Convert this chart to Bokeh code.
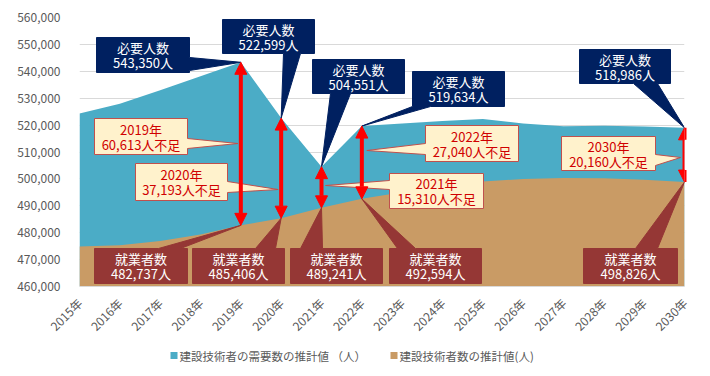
import math
from bokeh.plotting import figure
from bokeh.layouts import column
from bokeh.models import (FixedTicker, NumeralTickFormatter, Arrow, NormalHead, Range1d)
from bokeh.core.properties import value
from bokeh.embed import file_html
from bokeh.resources import INLINE

# ---------------- data ----------------
years = list(range(2015, 2031))
year_labels = [f"{y}年" for y in years]
demand = [524300, 527900, 533000, 538200, 543350, 522599, 504551, 519634,
          520600, 521500, 522300, 520600, 519600, 519800, 519500, 518986]
supply = [474900, 475300, 476900, 479300, 482737, 485406, 489241, 492594,
          495000, 497100, 499000, 500000, 500300, 500200, 499700, 498826]
series_names = ["建設技術者の需要数の推計値 （人）", "建設技術者数の推計値(人)"]

# highlighted years (callouts)
hl_years = [2019, 2020, 2021, 2022, 2030]
shortage = [60613, 37193, 15310, 27040, 20160]

FONT = "Noto Sans CJK JP"
BLUE = "#4BACC6"
TAN = "#C99B65"
NAVY = "#002060"
DRED = "#953735"
CREAM = "#FFF2CC"
RED = "#FF0000"

W = 710
H_MAIN = 343
H_LEG = 33
FL, FR, FT, FB = 79, 684, 17, 286
X0, X1 = 2015, 2030
Y0, Y1 = 460000, 560000

def dx(px):
    return X0 + (px - FL) * (X1 - X0) / (FR - FL)

def dy(py):
    return Y0 + (FB - py) * (Y1 - Y0) / (FB - FT)

p = figure(width=W, height=H_MAIN, output_backend="svg", toolbar_location=None,
           x_range=Range1d(X0, X1), y_range=Range1d(Y0, Y1),
           min_border_left=FL, min_border_right=W - FR,
           min_border_top=FT, min_border_bottom=H_MAIN - FB)
p.outline_line_color = None
p.background_fill_color = "white"
p.border_fill_color = "white"

r_dem = p.varea(x=years, y1=[Y0] * len(years), y2=demand, fill_color=BLUE)
r_sup = p.varea(x=years, y1=[Y0] * len(years), y2=supply, fill_color=TAN)

# axes
p.xgrid.visible = False
p.ygrid.grid_line_color = "#d9d9d9"
p.ygrid.grid_line_width = 1
p.yaxis.ticker = FixedTicker(ticks=list(range(Y0, Y1 + 1, 10000)))
p.yaxis.formatter = NumeralTickFormatter(format="0,0")
p.yaxis.axis_line_color = None
p.yaxis.major_tick_line_color = None
p.yaxis.minor_tick_line_color = None
p.yaxis.major_label_text_font = FONT
p.yaxis.major_label_text_font_size = "12px"
p.yaxis.major_label_text_color = "#595959"
p.yaxis.major_label_standoff = 13

p.xaxis.ticker = FixedTicker(ticks=years)
p.xaxis.major_label_overrides = {y: l for y, l in zip(years, year_labels)}
p.xaxis.major_label_orientation = math.pi / 4
p.xaxis.axis_line_color = "#d9d9d9"
p.xaxis.major_tick_line_color = None
p.xaxis.minor_tick_line_color = None
p.xaxis.major_label_text_font = FONT
p.xaxis.major_label_text_font_size = "12px"
p.xaxis.major_label_text_color = "#595959"
p.xaxis.major_label_standoff = 8

# ---------------- callouts ----------------
def build(L, T, R, B, side, a, b, tip):
    if side == "right":
        pts = [(L, T), (R, T), (R, a), None, (R, b), (R, B), (L, B)]
    elif side == "left":
        pts = [(L, T), (R, T), (R, B), (L, B), (L, b), None, (L, a)]
    elif side == "bottom":
        pts = [(L, T), (R, T), (R, B), (b, B), None, (a, B), (L, B)]
    else:  # top
        pts = [(L, T), (a, T), None, (b, T), (R, T), (R, B), (L, B)]
    xs, ys = [], []
    for pt in pts:
        if pt is None:
            xs.append(tip[0]); ys.append(tip[1])
        else:
            xs.append(dx(pt[0])); ys.append(dy(pt[1]))
    return xs, ys

def idx(y):
    return years.index(y)

# layout of boxes in screen px: (L, T, R, B, side, a, b)
navy_layout = [(96, 37, 189, 72, "right", 57, 70),
               (222, 19, 314, 53, "bottom", 283, 300),
               (312, 59, 404, 93, "bottom", 330, 350),
               (412, 71, 504, 106, "bottom", 412, 430),
               (579, 49, 670, 83, "bottom", 633, 657)]
red_layout = [(94, 248, 187, 283, "top", 158, 180),
              (192, 248, 284, 283, "top", 255, 275),
              (290, 248, 382, 283, "top", 300, 322),
              (389, 248, 481, 283, "top", 397, 415),
              (583, 248, 677, 283, "top", 635, 657)]
# cream: (L, T, R, B, side, a, b, tip_px_dx, tip_py)
cream_layout = [(94, 118, 187, 154, "right", 138, 148, -3, 143),
                (135, 163, 227, 200, "right", 181, 192, -3, 189),
                (389, 173, 483, 208, "left", 180, 189, 4, 185),
                (425, 125, 518, 161, "left", 143, 154, 5, 150),
                (561, 136, 655, 170, "right", 154, 165, -4, 157)]

def add_box(L, T, R, B, side, a, b, tip, fill, line, lines, tcolor, size):
    xs, ys = build(L, T, R, B, side, a, b, tip)
    p.patch(xs, ys, fill_color=fill, line_color=line, line_width=1)
    cx = dx((L + R) / 2)
    cy = (T + B) / 2
    p.text(x=[cx, cx], y=[dy(cy - 7.5), dy(cy + 7.5)], text=lines,
           text_font=value(FONT), text_font_size=size, text_color=tcolor,
           text_align="center", text_baseline="middle")

# arrows (behind cream callouts)
for yr in hl_years:
    i = idx(yr)
    p.add_layout(Arrow(x_start=yr, y_start=supply[i], x_end=yr, y_end=demand[i],
                       line_color=RED, line_width=4,
                       start=NormalHead(size=12, fill_color=RED, line_color=RED, line_width=1),
                       end=NormalHead(size=12, fill_color=RED, line_color=RED, line_width=1)))

for yr, lay in zip(hl_years, navy_layout):
    i = idx(yr)
    add_box(*lay, (yr, demand[i]), NAVY, NAVY,
            ["必要人数", f"{demand[i]:,}人"], "white", "13px")

for yr, lay in zip(hl_years, red_layout):
    i = idx(yr)
    add_box(*lay, (yr, supply[i]), DRED, DRED,
            ["就業者数", f"{supply[i]:,}人"], "white", "13px")

for yr, s, lay in zip(hl_years, shortage, cream_layout):
    L, T, R, B, side, a, b, tdx, tpy = lay
    tip = (yr + tdx * (X1 - X0) / (FR - FL), dy(tpy))
    add_box(L, T, R, B, side, a, b, tip, CREAM, "#C0504D",
            [f"{yr}年", f"{s:,}人不足"], "#D00000", "13px")

# ---------------- legend (separate strip, pixel units) ----------------
# frame of this strip is aligned with the main frame (FL..FR), so x range = pixels
leg = figure(width=W, height=H_LEG, output_backend="svg", toolbar_location=None,
             x_range=Range1d(FL, FR), y_range=Range1d(H_LEG, 0),
             min_border_left=FL, min_border_right=W - FR,
             min_border_top=0, min_border_bottom=0, outline_line_color=None)
leg.axis.visible = False
leg.grid.visible = False
leg_x = [170, 390]
leg_colors = [BLUE, TAN]
leg_y = 355 - H_MAIN
leg.rect(x=[x + 3.5 for x in leg_x], y=[leg_y, leg_y], width=7, height=7,
         fill_color=leg_colors, line_color=None)
leg.text(x=[x + 9 for x in leg_x], y=[leg_y, leg_y], text=series_names,
         text_font=value(FONT), text_font_size="11.5px", text_color="#595959",
         text_align="left", text_baseline="middle")

layout = column(p, leg, spacing=0)
open("out.html", "w").write(file_html(layout, INLINE))
